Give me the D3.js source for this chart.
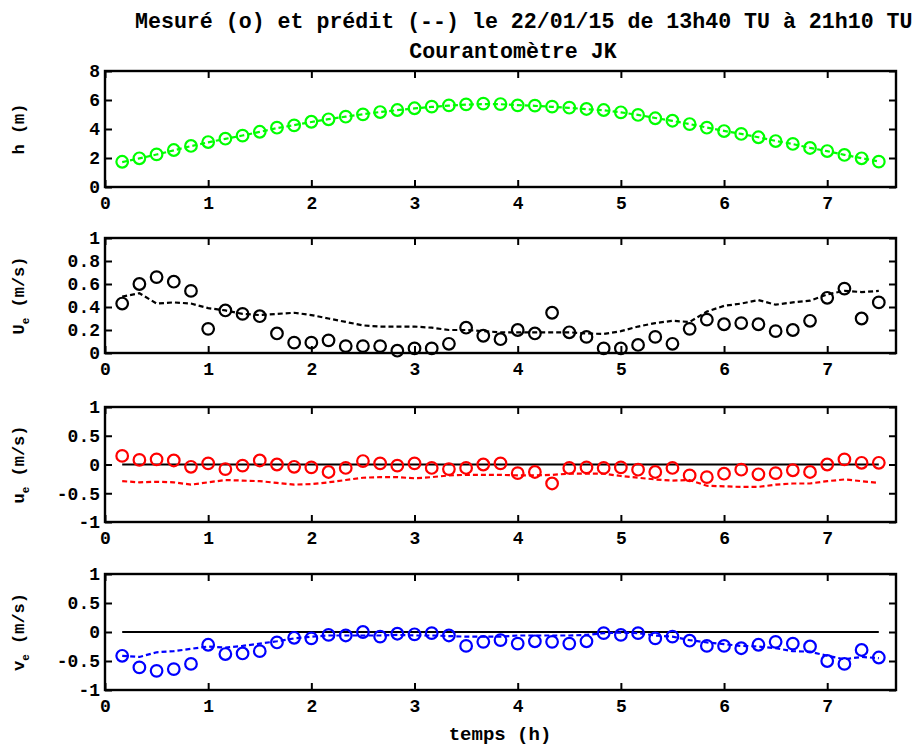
<!DOCTYPE html>
<html><head><meta charset="utf-8">
<script src="https://cdn.jsdelivr.net/npm/d3@7"></script>
<style>body{margin:0;background:#fff;} svg{display:block;}</style>
</head><body>
<script>
// ---- data ----
const times = d3.range(1, 46).map(k => k / 6); // hours since 13h30, 10-min steps
const hMeas = [1.74,1.98,2.25,2.55,2.83,3.10,3.33,3.54,3.81,4.09,4.25,4.50,4.67,4.85,5.01,5.17,5.31,5.43,5.54,5.63,5.70,5.75,5.72,5.63,5.61,5.54,5.47,5.38,5.31,5.15,4.97,4.74,4.57,4.34,4.09,3.86,3.66,3.43,3.17,2.97,2.69,2.48,2.21,1.98,1.75];
const hPred = [1.72,1.97,2.24,2.53,2.82,3.08,3.32,3.55,3.80,4.06,4.27,4.48,4.68,4.85,5.02,5.17,5.30,5.42,5.52,5.61,5.68,5.72,5.71,5.65,5.60,5.53,5.46,5.37,5.29,5.15,4.97,4.76,4.56,4.34,4.10,3.87,3.66,3.43,3.18,2.96,2.70,2.47,2.22,1.99,1.76];
const UeMeas = [0.43,0.60,0.66,0.62,0.54,0.21,0.37,0.34,0.32,0.17,0.09,0.09,0.11,0.06,0.06,0.06,0.02,0.04,0.04,0.08,0.22,0.15,0.12,0.20,0.17,0.35,0.18,0.14,0.04,0.04,0.07,0.14,0.08,0.21,0.29,0.25,0.26,0.25,0.19,0.20,0.28,0.48,0.56,0.30,0.44];
const UePred = [0.49,0.52,0.43,0.44,0.43,0.39,0.37,0.34,0.33,0.34,0.35,0.33,0.30,0.27,0.24,0.23,0.23,0.23,0.22,0.20,0.20,0.19,0.18,0.18,0.18,0.18,0.18,0.17,0.165,0.19,0.23,0.26,0.28,0.27,0.36,0.41,0.43,0.46,0.42,0.44,0.455,0.51,0.54,0.53,0.54];
const ueMeas = [0.15,0.08,0.09,0.07,-0.04,0.02,-0.08,-0.02,0.07,0.00,-0.04,-0.05,-0.13,-0.06,0.06,0.02,-0.02,0.02,-0.06,-0.08,-0.06,0.00,0.02,-0.15,-0.13,-0.33,-0.06,-0.05,-0.06,-0.05,-0.09,-0.13,-0.06,-0.19,-0.22,-0.16,-0.09,-0.17,-0.15,-0.10,-0.13,0.00,0.09,0.03,0.03];
const uePred = [-0.29,-0.31,-0.30,-0.31,-0.35,-0.31,-0.27,-0.28,-0.29,-0.32,-0.35,-0.34,-0.31,-0.27,-0.23,-0.22,-0.22,-0.24,-0.22,-0.19,-0.18,-0.18,-0.18,-0.19,-0.19,-0.18,-0.16,-0.16,-0.16,-0.20,-0.23,-0.26,-0.28,-0.27,-0.37,-0.38,-0.39,-0.39,-0.35,-0.33,-0.33,-0.29,-0.26,-0.29,-0.32];
const veMeas = [-0.41,-0.61,-0.67,-0.64,-0.55,-0.22,-0.38,-0.37,-0.33,-0.18,-0.10,-0.11,-0.05,-0.06,0.00,-0.08,-0.03,-0.04,-0.02,-0.06,-0.24,-0.17,-0.14,-0.20,-0.16,-0.17,-0.20,-0.16,-0.02,-0.05,-0.02,-0.11,-0.08,-0.15,-0.24,-0.24,-0.28,-0.22,-0.17,-0.20,-0.25,-0.50,-0.55,-0.31,-0.44];
const vePred = [-0.41,-0.43,-0.35,-0.33,-0.29,-0.25,-0.27,-0.24,-0.20,-0.16,-0.11,-0.08,-0.06,-0.06,-0.06,-0.06,-0.05,-0.06,-0.06,-0.07,-0.08,-0.08,-0.08,-0.06,-0.06,-0.06,-0.06,-0.05,-0.02,-0.01,-0.02,-0.06,-0.08,-0.14,-0.18,-0.21,-0.24,-0.25,-0.28,-0.33,-0.34,-0.41,-0.47,-0.43,-0.45];
const xTicks = [0,1,2,3,4,5,6,7];
const hTicks = [0,2,4,6,8];
const UeTicks = [0,0.2,0.4,0.6,0.8,1];
const uvTicks = [-1,-0.5,0,0.5,1];
const titleText = "Mesuré (o) et prédit (--) le 22/01/15 de 13h40 TU à 21h10 TU";
const subtitleText = "Courantomètre JK";
const xLabel = "temps (h)";

// ---- drawing ----
const W = 919, H = 746;
const svg = d3.select("body").append("svg").attr("width", W).attr("height", H);
const FONT = "'Liberation Mono', 'DejaVu Sans Mono', monospace";
const x = d3.scaleLinear().domain([0, 23/6 * 2]).range([105, 896]);

const panels = [
  {top:71, bottom:187, dom:[0,8], ticks:hTicks, meas:hMeas, pred:hPred, color:"#00ff00", label:["h (m)"], zero:false},
  {top:238, bottom:353, dom:[0,1], ticks:UeTicks, meas:UeMeas, pred:UePred, color:"#000000", label:["U","e"," (m/s)"], zero:false},
  {top:407, bottom:522, dom:[-1,1], ticks:uvTicks, meas:ueMeas, pred:uePred, color:"#ff0000", label:["u","e"," (m/s)"], zero:true},
  {top:574, bottom:690, dom:[-1,1], ticks:uvTicks, meas:veMeas, pred:vePred, color:"#0000ff", label:["v","e"," (m/s)"], zero:true}
];

const fmt = v => (Math.abs(v) < 1e-9 ? "0" : String(+v.toFixed(2)));

panels.forEach(p => {
  const y = d3.scaleLinear().domain(p.dom).range([p.bottom, p.top]);
  const g = svg.append("g");
  if (p.zero) {
    g.append("line").attr("x1", x(times[0])).attr("x2", x(times[times.length-1]))
      .attr("y1", y(0)).attr("y2", y(0)).attr("stroke", "#000").attr("stroke-width", 2.2);
  }
  const line = d3.line().x((d,i) => x(times[i])).y(d => y(d));
  g.append("path").datum(p.pred).attr("d", line).attr("fill", "none")
    .attr("stroke", p.color).attr("stroke-width", 2.2).attr("stroke-dasharray", "5,3");
  g.selectAll("circle").data(p.meas).enter().append("circle")
    .attr("cx", (d,i) => x(times[i])).attr("cy", d => y(d)).attr("r", 5.8)
    .attr("fill", "none").attr("stroke", p.color).attr("stroke-width", 2.2);
  const axB = d3.axisBottom(x).tickValues(xTicks).tickSize(-7).tickSizeOuter(0).tickPadding(9).tickFormat(d3.format("d"));
  const axT = d3.axisTop(x).tickValues(xTicks).tickSize(-7).tickSizeOuter(0).tickFormat("");
  const axL = d3.axisLeft(y).tickValues(p.ticks).tickSize(-7).tickSizeOuter(0).tickPadding(5).tickFormat(fmt);
  const axR = d3.axisRight(y).tickValues(p.ticks).tickSize(-7).tickSizeOuter(0).tickFormat("");
  [[axB,`translate(0,${p.bottom})`],[axT,`translate(0,${p.top})`],[axL,`translate(105,0)`],[axR,`translate(896,0)`]].forEach(([a,t]) => {
    const ag = g.append("g").attr("transform", t).call(a);
    ag.selectAll("path.domain").remove();
    ag.selectAll("line").attr("stroke", "#000").attr("stroke-width", 2);
    ag.selectAll("text").attr("font-family", FONT).attr("font-weight", "bold").attr("font-size", 18).attr("fill", "#000");
  });
  g.append("rect").attr("x", 105).attr("y", p.top).attr("width", 896-105).attr("height", p.bottom-p.top)
    .attr("fill", "none").attr("stroke", "#000").attr("stroke-width", 2.4);
  const cy = (p.top + p.bottom) / 2;
  const t = svg.append("text").attr("transform", `translate(24,${cy}) rotate(-90)`)
    .attr("text-anchor", "middle").attr("font-family", FONT).attr("font-weight", "bold").attr("font-size", 17).attr("fill", "#000");
  t.append("tspan").text(p.label[0]);
  if (p.label.length > 1) {
    t.append("tspan").attr("dy", 5).attr("font-size", 11).text(p.label[1]);
    t.append("tspan").attr("dy", -5).text(p.label[2]);
  }
});

svg.append("text").attr("x", 135).attr("y", 28).attr("font-family", FONT).attr("font-weight", "bold")
  .attr("font-size", 21.6).attr("fill", "#000").text(titleText);
svg.append("text").attr("x", 513).attr("y", 58).attr("text-anchor", "middle").attr("font-family", FONT).attr("font-weight", "bold")
  .attr("font-size", 21.6).attr("fill", "#000").text(subtitleText);
svg.append("text").attr("x", 500).attr("y", 740).attr("text-anchor", "middle").attr("font-family", FONT).attr("font-weight", "bold")
  .attr("font-size", 19).attr("fill", "#000").text(xLabel);
</script>
</body></html>
